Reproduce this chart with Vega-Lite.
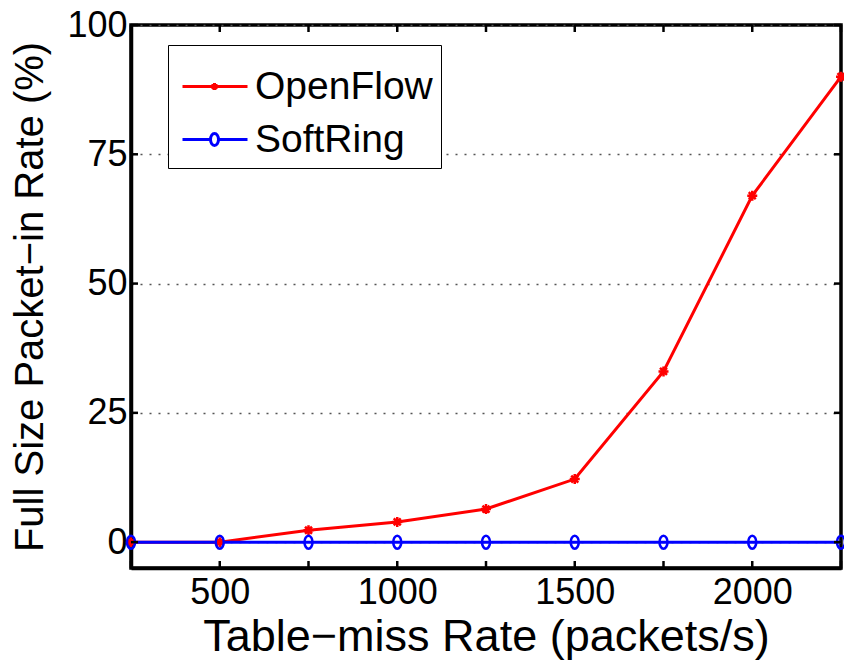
{
  "$schema": "https://vega.github.io/schema/vega-lite/v6.json",
  "width": 710,
  "height": 543,
  "autosize": "none",
  "padding": {"left": 131, "top": 25, "right": 3, "bottom": 92},
  "background": "white",
  "config": {
    "font": "Liberation Sans",
    "view": {"stroke": "black", "strokeWidth": 3.5},
    "axis": {
      "domainColor": "black",
      "domainWidth": 3.5,
      "tickOpacity": 0,
      "tickSize": 7,
      "labelColor": "black",
      "labelFont": "Liberation Sans",
      "labelFontSize": 36,
      "titleFont": "Liberation Sans",
      "titleFontSize": 40,
      "titleFontWeight": "normal",
      "titleColor": "black",
      "grid": false,
      "labelOverlap": false,
      "labelFlush": false
    },
    "legend": {
      "strokeColor": "black",
      "fillColor": "white",
      "padding": 8,
      "labelFont": "Liberation Sans",
      "labelFontSize": 39,
      "labelColor": "black",
      "labelLimit": 400,
      "symbolSize": 400,
      "symbolStrokeWidth": 3,
      "labelOffset": 40,
      "rowPadding": 13,
      "titleFontSize": 14,
      "titlePadding": 0
    }
  },
  "datasets": {
    "main": [
      {"x": 250, "y": 0, "series": "OpenFlow"},
      {"x": 500, "y": 0, "series": "OpenFlow"},
      {"x": 750, "y": 2.3, "series": "OpenFlow"},
      {"x": 1000, "y": 3.9, "series": "OpenFlow"},
      {"x": 1250, "y": 6.4, "series": "OpenFlow"},
      {"x": 1500, "y": 12.2, "series": "OpenFlow"},
      {"x": 1750, "y": 33, "series": "OpenFlow"},
      {"x": 2000, "y": 67, "series": "OpenFlow"},
      {"x": 2250, "y": 90, "series": "OpenFlow"},
      {"x": 250, "y": 0, "series": "SoftRing"},
      {"x": 500, "y": 0, "series": "SoftRing"},
      {"x": 750, "y": 0, "series": "SoftRing"},
      {"x": 1000, "y": 0, "series": "SoftRing"},
      {"x": 1250, "y": 0, "series": "SoftRing"},
      {"x": 1500, "y": 0, "series": "SoftRing"},
      {"x": 1750, "y": 0, "series": "SoftRing"},
      {"x": 2000, "y": 0, "series": "SoftRing"},
      {"x": 2250, "y": 0, "series": "SoftRing"}
    ],
    "xticks": [{"v": 250}, {"v": 500}, {"v": 750}, {"v": 1000}, {"v": 1250}, {"v": 1500}, {"v": 1750}, {"v": 2000}, {"v": 2250}],
    "yticks": [{"v": 0}, {"v": 25}, {"v": 50}, {"v": 75}, {"v": 100}]
  },
  "layer": [
    {
      "data": {"name": "main"},
      "transform": [{"filter": "false"}],
      "mark": {"type": "point", "filled": false, "size": 400, "strokeWidth": 3, "opacity": 1},
      "encoding": {
        "x": {"field": "x", "type": "quantitative", "axis": null},
        "y": {"field": "y", "type": "quantitative", "axis": null},
        "color": {
          "field": "series", "type": "nominal",
          "legend": {"orient": "none", "legendX": 37, "legendY": 20, "title": " "}
        },
        "shape": {
          "field": "series", "type": "nominal",
          "scale": {"domain": ["OpenFlow", "SoftRing"], "range": ["M-1.3,0L5.2,0M1.55,0L2.25,0M1.9,-0.35L1.9,0.35M1.65,-0.25L2.15,0.25M1.65,0.25L2.15,-0.25", "M-1.3,0L1.5,0A0.4,0.6 0 1,1 2.3,0A0.4,0.6 0 1,1 1.5,0M2.3,0L5.2,0"]},
          "legend": {"orient": "none", "legendX": 37, "legendY": 20, "title": " "}
        }
      }
    },
    {
      "data": {"name": "main"},
      "mark": {"type": "line", "strokeWidth": 3, "clip": false},
      "encoding": {
        "x": {
          "field": "x", "type": "quantitative",
          "scale": {"domain": [250, 2250], "nice": false, "zero": false},
          "axis": {
            "orient": "bottom",
            "values": [250, 500, 750, 1000, 1250, 1500, 1750, 2000, 2250],
            "labelExpr": "datum.value % 500 === 0 ? datum.label : ''",
            "format": "d",
            "labelPadding": 0,
            "title": "Table−miss Rate (packets/s)",
            "titleFontSize": 45,
            "titlePadding": 4
          }
        },
        "y": {
          "field": "y", "type": "quantitative",
          "scale": {"domain": [-5, 100], "nice": false, "zero": false},
          "axis": {
            "orient": "left",
            "values": [0, 25, 50, 75, 100],
            "format": "d",
            "grid": true,
            "gridDash": [2, 7],
            "gridColor": "#555555",
            "gridWidth": 1.5,
            "labelPadding": -3,
            "title": "Full Size Packet−in Rate (%)",
            "titlePadding": 16
          }
        },
        "color": {
          "field": "series", "type": "nominal",
          "scale": {"domain": ["OpenFlow", "SoftRing"], "range": ["#ff0000", "#0000ff"]},
          "legend": {"orient": "none", "legendX": 37, "legendY": 20, "title": " "}
        }
      }
    },
    {
      "data": {"name": "main"},
      "transform": [{"filter": "datum.series === 'OpenFlow'"}],
      "mark": {"type": "point", "filled": false, "strokeWidth": 2.5, "size": 100, "opacity": 1, "clip": false, "shape": "M-1,0L1,0M0,-1L0,1M-0.7,-0.7L0.7,0.7M-0.7,0.7L0.7,-0.7"},
      "encoding": {
        "x": {"field": "x", "type": "quantitative", "axis": null},
        "y": {"field": "y", "type": "quantitative", "axis": null},
        "color": {"field": "series", "type": "nominal", "legend": {"orient": "none", "legendX": 37, "legendY": 20, "title": " "}}
      }
    },
    {
      "data": {"name": "main"},
      "transform": [{"filter": "datum.series === 'SoftRing'"}],
      "mark": {"type": "point", "filled": false, "strokeWidth": 2.5, "size": 100, "opacity": 1, "clip": false, "shape": "M-0.8,0A0.8,1.3 0 1,0 0.8,0A0.8,1.3 0 1,0 -0.8,0Z"},
      "encoding": {
        "x": {"field": "x", "type": "quantitative", "axis": null},
        "y": {"field": "y", "type": "quantitative", "axis": null},
        "color": {"field": "series", "type": "nominal", "legend": {"orient": "none", "legendX": 37, "legendY": 20, "title": " "}}
      }
    },
    {
      "data": {"name": "xticks"},
      "mark": {"type": "rule", "color": "black", "strokeWidth": 2.5},
      "encoding": {
        "x": {"field": "v", "type": "quantitative", "axis": null},
        "y": {"datum": -5, "type": "quantitative", "axis": null},
        "y2": {"datum": -3.65}
      }
    },
    {
      "data": {"name": "xticks"},
      "mark": {"type": "rule", "color": "black", "strokeWidth": 2.5},
      "encoding": {
        "x": {"field": "v", "type": "quantitative", "axis": null},
        "y": {"datum": 100, "type": "quantitative", "axis": null},
        "y2": {"datum": 98.65}
      }
    },
    {
      "data": {"name": "yticks"},
      "mark": {"type": "rule", "color": "black", "strokeWidth": 2.5},
      "encoding": {
        "y": {"field": "v", "type": "quantitative", "axis": null},
        "x": {"datum": 250, "type": "quantitative", "axis": null},
        "x2": {"datum": 269.7}
      }
    },
    {
      "data": {"name": "yticks"},
      "mark": {"type": "rule", "color": "black", "strokeWidth": 2.5},
      "encoding": {
        "y": {"field": "v", "type": "quantitative", "axis": null},
        "x": {"datum": 2250, "type": "quantitative", "axis": null},
        "x2": {"datum": 2230.3}
      }
    }
  ],
  "resolve": {"axis": {"x": "independent", "y": "independent"}}
}
